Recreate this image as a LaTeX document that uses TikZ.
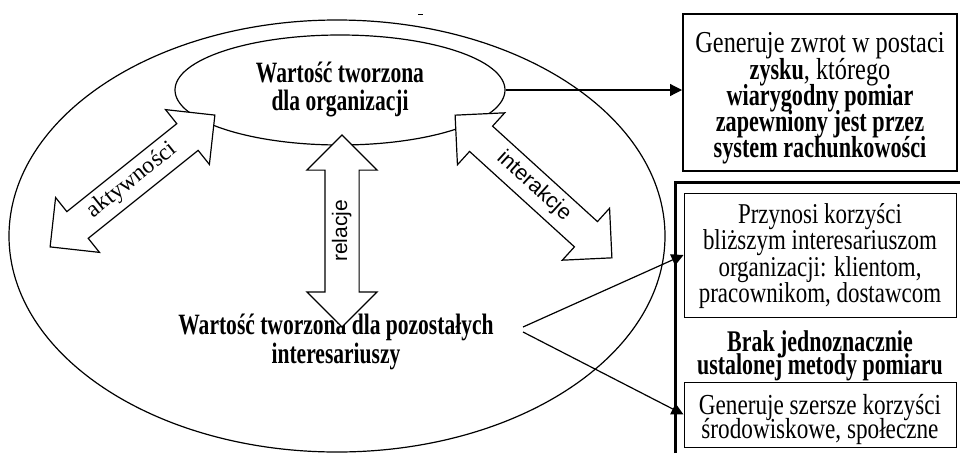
\documentclass[tikz,border=0pt]{standalone}
\usepackage{fontspec}
\setmainfont{Liberation Serif}[FakeStretch=0.8,
  BoldFont={Liberation Serif Bold}, BoldFeatures={FakeStretch=0.73}]
\setsansfont{Liberation Sans}
\newfontfamily\plainserif{Liberation Serif}
\usetikzlibrary{shapes.geometric,shapes.arrows,arrows.meta}

% font size with a fixed line distance
\newcommand{\setlead}[2]{\fontsize{#1}{#2}\selectfont\lineskiplimit=-30pt\relax}

\tikzset{
  txt/.style={align=center, inner sep=0pt},
  frame/.style={draw, line width=1pt, inner sep=0pt},
  oval/.style={ellipse, draw, line width=1.2pt, inner sep=0pt},
  blockarrow/.style={double arrow, draw, fill=white, line width=1.2pt,
    double arrow tip angle=90, double arrow head extend=18pt,
    inner xsep=0pt, inner ysep=7.5pt, text height=14pt, text depth=4pt},
  conn/.style={line width=1.2pt, -{Triangle[length=12pt,width=12pt]}},
}

\begin{document}
\begin{tikzpicture}[x=1pt,y=1pt]
  \useasboundingbox (0,0) rectangle (960,-453);

  % value for the organisation and for the others
  \node[oval, minimum width=656pt, minimum height=432pt] (all) at (337,-236) {};
  \node[oval, txt, minimum width=330pt, minimum height=110pt, font=\setlead{29.5}{28}\bfseries]
        (org) at (340,-90) {Wartość tworzona\\dla organizacji};
  \node[txt, font=\setlead{29.5}{29}\bfseries] (pozost) at (336,-342)
        {Wartość tworzona dla pozostałych\\interesariuszy};
  \draw[line width=1pt] (418,-14) -- (423,-14);

  % block arrows
  \node[blockarrow, minimum height=211pt, rotate=38.66, font=\plainserif\fontsize{23.5}{24}\selectfont]
        (akt) at (132.5,-181) {aktywności};
  \node[blockarrow, minimum height=192pt, rotate=90, font=\sffamily\fontsize{21}{22}\selectfont]
        (rel) at (342,-231) {relacje};
  \node[blockarrow, minimum height=212pt, rotate=-42.3, font=\sffamily\fontsize{21.5}{22}\selectfont]
        (inter) at (533.5,-186.5) {interakcje};

  % measurement boxes
  \node[frame, line width=2pt, minimum width=274pt, minimum height=157pt] (zysk) at (820,-92.5) {};
  \node[txt, font=\setlead{30.4}{26.25}] (zysktxt) at ([yshift=-6pt]zysk.center)
        {Generuje zwrot w postaci\\\textbf{zysku}, którego\\\textbf{wiarygodny pomiar}\\
         \textbf{zapewniony jest przez}\\\textbf{system rachunkowości}};
  \draw[line width=3pt] (675,-453) |- (960,-182);
  \node[frame, minimum width=272pt, minimum height=124pt] (blizsi) at (820,-255) {};
  \node[txt, font=\setlead{28.7}{26.5}] (blizsitxt) at ([yshift=-1pt]blizsi.center)
        {Przynosi korzyści\\bliższym interesariuszom\\organizacji: klientom,\\pracownikom, dostawcom};
  \node[txt, font=\setlead{30}{23.5}\bfseries] (brak) at (820,-356)
        {Brak jednoznacznie\\ustalonej metody pomiaru};
  \node[frame, minimum width=272pt, minimum height=65pt] (szersze) at (820,-414.5) {};
  \node[txt, font=\setlead{29}{24}] (szerszetxt) at ([yshift=-5pt]szersze.center)
        {Generuje szersze korzyści\\środowiskowe, społeczne};

  % connectors
  \coordinate (c1) at (523,-327);
  \coordinate (c2) at (523,-332);
  \draw[conn] (org.east) -- (org.east -| zysk.west);
  \draw[conn] (c1) -- (blizsi.west);
  \draw[conn] (c2) -- (szersze.west);
\end{tikzpicture}
\end{document}
